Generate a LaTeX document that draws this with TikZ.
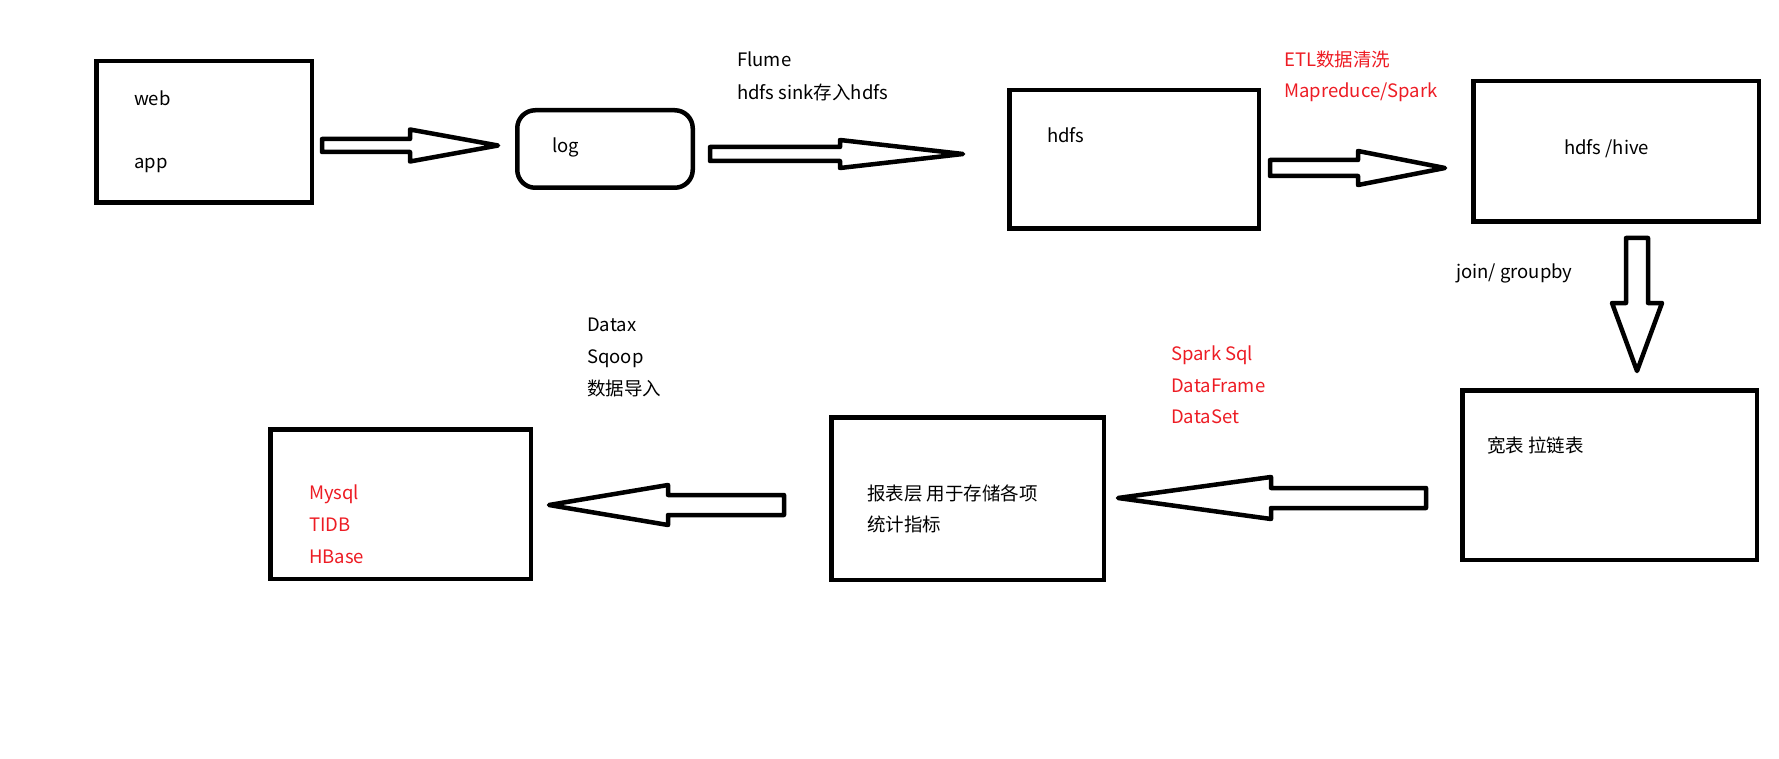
\documentclass[tikz,border=0pt]{standalone}
\usepackage{fontspec}
\setmainfont{Noto Sans CJK SC}
\usetikzlibrary{calc}
\definecolor{paintred}{RGB}{237,28,36}

\tikzset{
  box/.style={draw,line width=4.5pt,inner sep=0pt},
  blockarrow/.style={draw,line width=4.5pt,line join=round},
  lbl/.style={anchor=base west,inner sep=0pt,font=\fontsize{18.5}{22}\selectfont},
  redlbl/.style={lbl,text=paintred}
}

\newcommand{\harrow}[5]{%
  \draw[blockarrow] ($(#1)+(0,#4)$) -- ($(#2)+(#3,#4)$) -- ($(#2)+(#3,#5)$) -- (#2)
    -- ($(#2)+(#3,-#5)$) -- ($(#2)+(#3,-#4)$) -- ($(#1)+(0,-#4)$) -- cycle;}
\newcommand{\varrow}[5]{%
  \draw[blockarrow] ($(#1)+(#4,0)$) -- ($(#2)+(#4,#3)$) -- ($(#2)+(#5,#3)$) -- (#2)
    -- ($(#2)+(-#5,#3)$) -- ($(#2)+(-#4,#3)$) -- ($(#1)+(-#4,0)$) -- cycle;}

\begin{document}
\begin{tikzpicture}[x=1pt,y=1pt]
\useasboundingbox (0,0) rectangle (1779,-759);

\node[box,minimum width=215.5pt,minimum height=141.5pt] (web) at (204,-132) {};
\node[box,rounded corners=18pt,minimum width=175.5pt,minimum height=77.5pt] (log) at (605,-149) {};
\node[box,minimum width=249.5pt,minimum height=138.5pt] (hdfs) at (1134,-159.5) {};
\node[box,minimum width=285.5pt,minimum height=140.5pt] (hive) at (1616,-151.5) {};
\node[box,minimum width=294.5pt,minimum height=169.5pt] (wide) at (1609.5,-475) {};
\node[box,minimum width=272.5pt,minimum height=162.5pt] (report) at (967.5,-498.5) {};
\node[box,minimum width=260.5pt,minimum height=149.5pt] (db) at (400.5,-504) {};

\node[lbl] (webtxt) at (134,-106) {web};
\node[lbl] (apptxt) at (134,-169) {app};
\node[lbl] (logtxt) at (552,-153) {log};
\node[lbl] (flume) at (737,-67) {Flume};
\node[lbl] (sink) at (737,-100) {hdfs sink存入hdfs};
\node[lbl] (hdfstxt) at (1047,-143) {hdfs};
\node[redlbl] (etl) at (1284,-67) {ETL数据清洗};
\node[redlbl] (mr) at (1284,-98) {Mapreduce/Spark};
\node[lbl] (hivetxt) at (1564,-155) {hdfs /hive};
\node[lbl] (join) at (1456,-279) {join/ groupby};
\node[redlbl] (sql) at (1171,-360) {Spark Sql};
\node[redlbl] (frame) at (1171,-392) {DataFrame};
\node[redlbl] (dset) at (1171,-423) {DataSet};
\node[lbl] (widetxt) at (1487,-452) {宽表 拉链表};
\node[lbl] (datax) at (587,-331) {Datax};
\node[lbl] (sqoop) at (587,-363) {Sqoop};
\node[lbl] (import) at (587,-395) {数据导入};
\node[lbl] (reporttxt) at (867,-500) {报表层 用于存储各项};
\node[lbl] (reporttxt2) at (867,-531) {统计指标};
\node[redlbl] (mysql) at (309,-499) {Mysql};
\node[redlbl] (tidb) at (309,-531) {TIDB};
\node[redlbl] (hbase) at (309,-563) {HBase};

\coordinate (weblog1) at (322,-145.5);
\coordinate (weblog2) at (498,-145.5);
\coordinate (loghdfs1) at (710,-154);
\coordinate (loghdfs2) at (963,-154);
\coordinate (hdfshive1) at (1270,-168);
\coordinate (hdfshive2) at (1445,-168);
\coordinate (hivewide1) at (1637,-238);
\coordinate (hivewide2) at (1637,-371);
\coordinate (widereport1) at (1426,-498);
\coordinate (widereport2) at (1118,-498);
\coordinate (reportdb1) at (784,-505);
\coordinate (reportdb2) at (549,-505);

\harrow{weblog1}{weblog2}{-88}{6.5}{16}
\harrow{loghdfs1}{loghdfs2}{-123}{7}{14}
\harrow{hdfshive1}{hdfshive2}{-87}{8}{17}
\varrow{hivewide1}{hivewide2}{68}{11}{25}
\harrow{widereport1}{widereport2}{153}{10}{21}
\harrow{reportdb1}{reportdb2}{119}{10}{20}

\end{tikzpicture}
\end{document}
